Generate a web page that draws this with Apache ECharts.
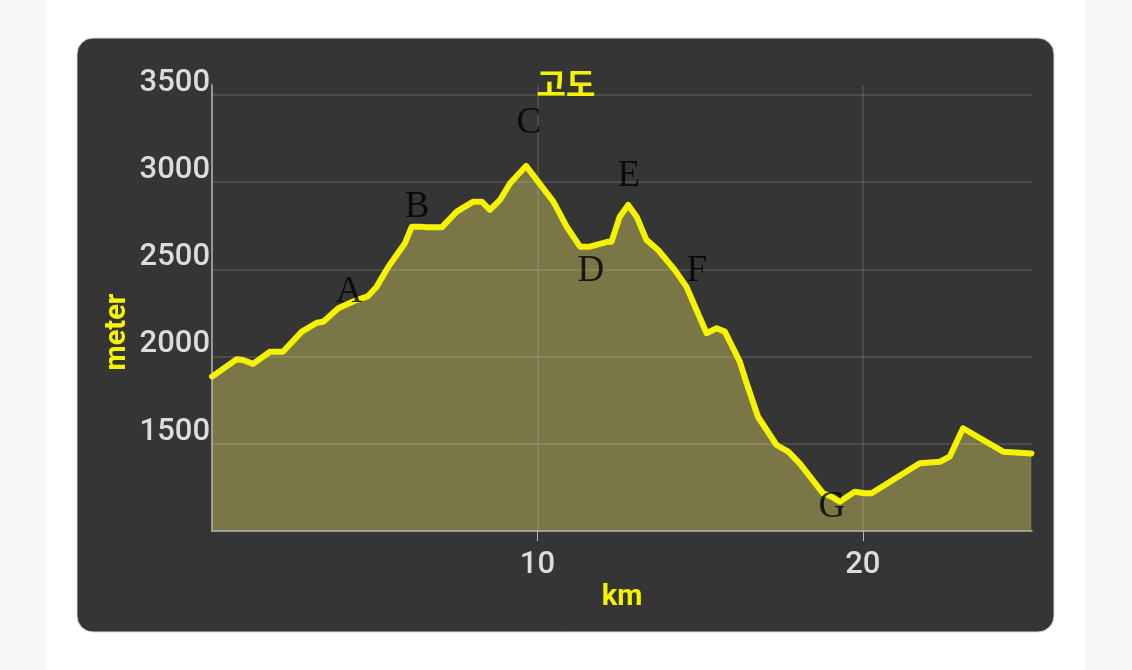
<!DOCTYPE html>
<html>
<head>
<meta charset="utf-8">
<script src="https://cdn.jsdelivr.net/npm/echarts@6/dist/echarts.min.js"></script>
<style>
html,body{margin:0;padding:0;background:#f7f7f7;}
#c{width:1132px;height:670px;}
</style>
</head>
<body>
<div id="c"></div>
<script>
// distance (km) and elevation (m)
const distKm = [0, 0.76, 0.95, 1.26, 1.78, 2.18, 2.76, 3.22, 3.42, 3.88, 4.39, 4.80, 5.06, 5.42, 5.93, 6.14, 6.39, 6.60, 7.06, 7.52, 8.03, 8.29, 8.54, 8.85, 9.16, 9.65, 9.98, 10.49, 10.90, 11.31, 11.61, 12.18, 12.28, 12.53, 12.79, 13.05, 13.35, 13.71, 14.22, 14.58, 14.89, 15.20, 15.51, 15.76, 16.22, 16.43, 16.78, 17.35, 17.71, 18.06, 18.78, 19.04, 19.29, 19.75, 20.06, 20.27, 21.75, 22.37, 22.67, 23.08, 24.31, 25.18];
const elevM = [1885, 1985, 1980, 1958, 2028, 2028, 2143, 2194, 2200, 2277, 2320, 2347, 2401, 2515, 2650, 2745, 2745, 2741, 2741, 2831, 2888, 2888, 2841, 2898, 2994, 3093, 3013, 2888, 2745, 2630, 2630, 2659, 2659, 2802, 2869, 2802, 2669, 2611, 2497, 2401, 2267, 2134, 2162, 2143, 1971, 1847, 1655, 1493, 1455, 1388, 1216, 1197, 1168, 1225, 1216, 1216, 1388, 1397, 1426, 1589, 1455, 1445];

// point annotations
const markNames = ['A', 'B', 'C', 'D', 'E', 'F', 'G'];
const markKm = [4.21, 6.30, 9.74, 11.64, 12.81, 14.90, 19.05];
const markElev = [2370, 2858, 3339, 2491, 3036, 2491, 1138];

const titleText = '고도';
const xName = 'km';
const yName = 'meter';

const lineData = distKm.map((d, i) => [d, elevM[i]]);
const markData = markNames.map((n, i) => ({ name: n, value: [markKm[i], markElev[i]] }));

const chart = echarts.init(document.getElementById('c'));
const labelColor = '#dcdcdc';
const yellow = '#f6f300';
chart.setOption({
  backgroundColor: '#f7f7f7',
  animation: false,
  graphic: [
    { type: 'rect', shape: { x: 47, y: 0, width: 1038, height: 670 }, style: { fill: '#ffffff' }, z: -10 },
    { type: 'rect', shape: { x: 77, y: 38, width: 977, height: 594, r: 16 }, style: { fill: '#353535', stroke: '#d8d8d8', lineWidth: 1 }, z: -9 }
  ],
  title: {
    text: titleText,
    left: 'center',
    top: 61,
    textStyle: { color: yellow, fontSize: 32, fontWeight: 'bold', fontFamily: 'Noto Sans CJK KR', lineHeight: 36 }
  },
  grid: { left: 212, right: 100, top: 85, bottom: 139 },
  xAxis: {
    type: 'value', min: 0, max: 25.2, interval: 10, z: 3,
    name: xName, nameLocation: 'middle', nameGap: 52, nameMoveOverlap: false,
    nameTextStyle: { color: yellow, fontSize: 29, fontWeight: 'bold', fontFamily: 'Roboto' },
    axisLine: { show: true, onZero: false, lineStyle: { color: '#b8b8b8', width: 1.5 } },
    axisTick: { show: true, length: 10, lineStyle: { color: '#b8b8b8' } },
    axisLabel: { color: labelColor, fontSize: 31, fontWeight: 500, fontFamily: 'Roboto', margin: 19, showMinLabel: false, showMaxLabel: false, formatter: v => String(v) },
    splitLine: { show: true, showMinLine: false, showMaxLine: false, lineStyle: { color: 'rgba(255,255,255,0.15)', width: 1.5 } }
  },
  yAxis: {
    type: 'value', min: 1000, max: 3557, interval: 500, z: 3,
    name: yName, nameLocation: 'middle', nameGap: 80, nameRotate: 90, nameMoveOverlap: false,
    nameTextStyle: { color: yellow, fontSize: 29, fontWeight: 'bold', fontFamily: 'Roboto', padding: [0, 48, 0, 0] },
    axisLine: { show: true, lineStyle: { color: '#b8b8b8', width: 1.5 } },
    axisTick: { show: false },
    axisLabel: { color: labelColor, fontSize: 31, fontWeight: 500, fontFamily: 'Roboto', margin: 2, showMinLabel: false, showMaxLabel: false, verticalAlign: 'bottom', lineHeight: 24, formatter: v => String(v) },
    splitLine: { show: true, showMinLine: false, showMaxLine: false, lineStyle: { color: 'rgba(255,255,255,0.15)', width: 1.5 } }
  },
  series: [
    {
      type: 'line', data: lineData, symbol: 'none', z: 1,
      lineStyle: { width: 0 },
      areaStyle: { color: '#7a7647', opacity: 1 }
    },
    {
      type: 'line', data: lineData, symbol: 'none', z: 5,
      lineStyle: { color: yellow, width: 6, join: 'round', cap: 'round' }
    },
    {
      type: 'scatter', data: markData, symbolSize: 0, z: 6,
      label: {
        show: true, position: 'inside', formatter: p => p.name,
        color: '#000000', fontSize: 37, fontFamily: 'Liberation Serif'
      }
    }
  ]
});
</script>
</body>
</html>
